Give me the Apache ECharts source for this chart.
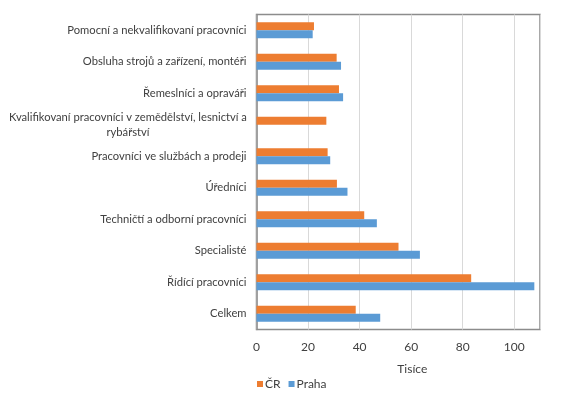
<!DOCTYPE html>
<html>
<head>
<meta charset="utf-8">
<script src="https://cdn.jsdelivr.net/npm/echarts@6/dist/echarts.min.js"></script>
<style>html,body{margin:0;padding:0;background:#fff}#c{width:573px;height:402px}</style>
</head>
<body>
<div id="c"></div>
<script>
const categories = [
  "Pomocní a nekvalifikovaní pracovníci",
  "Obsluha strojů a zařízení, montéři",
  "Řemeslníci a opraváři",
  "Kvalifikovaní pracovníci v zemědělství, lesnictví a\nrybářství",
  "Pracovníci ve službách a prodeji",
  "Úředníci",
  "Techničtí a odborní pracovníci",
  "Specialisté",
  "Řídící pracovníci",
  "Celkem"
];
const seriesNames = ["ČR", "Praha"];
const valuesCR = [22.3, 31.1, 32.0, 27.1, 27.6, 31.2, 41.8, 55.1, 83.3, 38.5];
const valuesPraha = [21.8, 32.8, 33.6, null, 28.6, 35.3, 46.7, 63.4, 107.8, 48.0];
const xTicks = [0, 20, 40, 60, 80, 100];
const axisTitle = "Tisíce";

const FONT = "Lato";
const FS = 11.2;
const chart = echarts.init(document.getElementById('c'), null, {renderer: 'canvas'});
chart.setOption({
  animation: false,
  textStyle: {fontFamily: FONT},
  grid: {left: 256.5, right: 33, top: 14.5, bottom: 72.5, show: true, borderColor: '#8c8c8c', borderWidth: 1.5, containLabel: false},
  legend: {
    data: seriesNames, left: 252, top: 373, itemWidth: 6, itemHeight: 6, itemGap: 8,
    icon: 'rect', textStyle: {fontFamily: FONT, fontSize: 12, color: '#404040', padding: [0,0,0,-3]}
  },
  xAxis: {
    type: 'value', min: 0, max: 110, interval: 20,
    axisLine: {show: false}, axisTick: {show: false},
    splitLine: {lineStyle: {color: '#d9d9d9', width: 1}},
    axisLabel: {color: '#404040', fontSize: 12, margin: 12, fontFamily: FONT,
      formatter: v => xTicks.includes(v) ? String(v) : ''},
    name: axisTitle, nameLocation: 'middle', nameGap: 34,
    nameTextStyle: {color: '#404040', fontSize: 12, fontFamily: FONT, padding: [0,0,0,28]}
  },
  yAxis: {
    type: 'category', data: categories, inverse: true,
    axisLine: {show: true, lineStyle: {color: '#8c8c8c', width: 1.5}},
    axisTick: {show: false},
    axisLabel: {color: '#404040', fontSize: FS, margin: 10, fontFamily: FONT, lineHeight: 15,
      formatter: v => v.indexOf('\n') >= 0 ? v.split('\n').map(s => '{c|' + s + '}').join('\n') : v,
      rich: {c: {width: 237, align: 'center', fontSize: FS, fontFamily: FONT, color: '#404040', lineHeight: 15}}
    }
  },
  series: [
    {name: seriesNames[0], type: 'bar', data: valuesCR, barWidth: 8, barGap: '0%', itemStyle: {color: '#ED7D31'}},
    {name: seriesNames[1], type: 'bar', data: valuesPraha, barWidth: 8, barGap: '0%', itemStyle: {color: '#5B9BD5'}}
  ]
});
</script>
</body>
</html>
